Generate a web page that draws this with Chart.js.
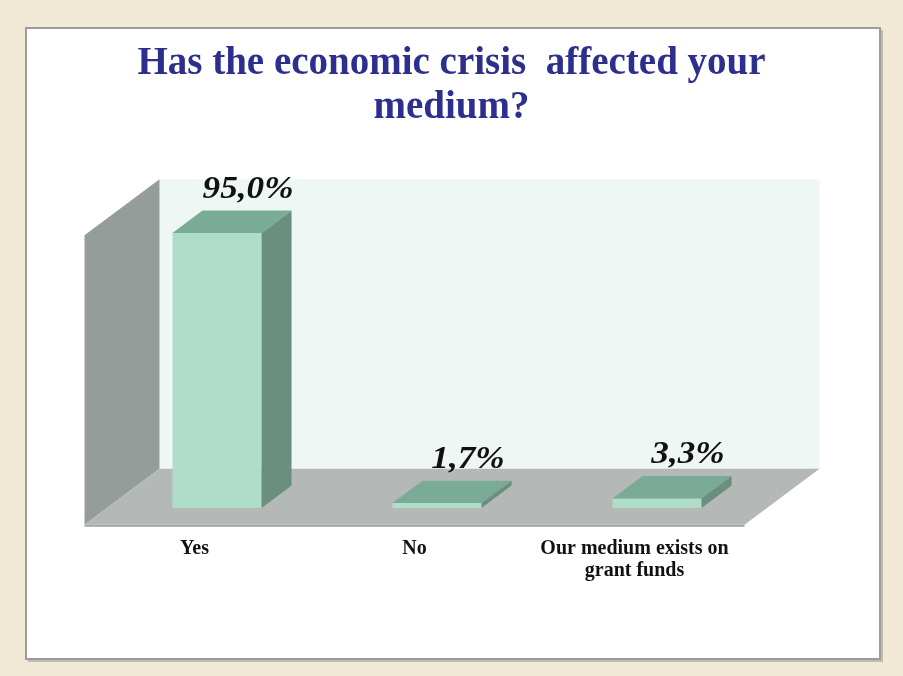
<!DOCTYPE html>
<html>
<head>
<meta charset="utf-8">
<script src="https://cdn.jsdelivr.net/npm/chart.js@4.4.1/dist/chart.umd.min.js"></script>
<style>
  html, body { margin: 0; padding: 0; background: #f2e8d6; }
  canvas { display: block; }
</style>
</head>
<body>
<canvas id="chart" width="903" height="676"></canvas>
<script>
// Survey answers and their shares (percent)
const categories = [['Yes'], ['No'], ['Our medium exists on', 'grant funds']];
const shares = [95.0, 1.7, 3.3];
const axisMax = 100;

// 3D projection: full floor depth and how a bar sits inside it
const DEPTH = { x: 75, y: -56 };
const BAR_FRONT = 0.3;   // fraction of depth in front of each bar
const BAR_DEPTH = 0.4;   // fraction of depth a bar occupies

const COLORS = {
  page: '#f2e8d6',
  backWall: '#eef7f4',
  sideWall: '#959d9b',
  floor: '#b4b9b8',
  floorEdge: '#9ea4a3',
  barFront: '#b0ddc9',
  barTop: '#7aab97',
  barSide: '#6a8f7f',
  title: '#2d2f8e'
};

const fmtShare = v => v.toFixed(1).replace('.', ',') + '%';

function poly(ctx, pts, fill) {
  ctx.beginPath();
  ctx.moveTo(pts[0][0], pts[0][1]);
  for (let i = 1; i < pts.length; i++) ctx.lineTo(pts[i][0], pts[i][1]);
  ctx.closePath();
  ctx.fillStyle = fill;
  ctx.fill();
}

const scenePlugin = {
  id: 'scene',
  beforeDraw(chart) {
    const ctx = chart.ctx;
    ctx.save();
    ctx.fillStyle = COLORS.page;
    ctx.fillRect(0, 0, chart.width, chart.height);
    // framed white panel with a soft shadow
    ctx.fillStyle = 'rgba(110,100,80,0.35)';
    ctx.fillRect(28, 30, 855, 632);
    ctx.fillStyle = '#ffffff';
    ctx.fillRect(26, 28, 854, 631);
    ctx.strokeStyle = '#9c9c9c';
    ctx.lineWidth = 2;
    ctx.strokeRect(26, 28, 854, 631);
    ctx.restore();
  },
  beforeDatasetsDraw(chart) {
    const ctx = chart.ctx;
    const { left, right } = chart.chartArea;
    const yScale = chart.scales.y;
    const fx = -BAR_FRONT * DEPTH.x, fy = -BAR_FRONT * DEPTH.y;
    const L = left + fx, R = right + fx;
    const B = yScale.getPixelForValue(0) + fy;
    const T = yScale.getPixelForValue(axisMax) + fy;
    const dx = DEPTH.x, dy = DEPTH.y;
    ctx.save();
    // back wall
    poly(ctx, [[L + dx, T + dy], [R + dx, T + dy], [R + dx, B + dy], [L + dx, B + dy]], COLORS.backWall);
    // left wall
    poly(ctx, [[L, B], [L, T], [L + dx, T + dy], [L + dx, B + dy]], COLORS.sideWall);
    // floor with a thin front edge
    poly(ctx, [[L, B], [R, B], [R, B + 2], [L, B + 2]], COLORS.floorEdge);
    poly(ctx, [[L, B], [R, B], [R + dx, B + dy], [L + dx, B + dy]], COLORS.floor);
    ctx.restore();
  },
  afterDatasetsDraw(chart) {
    const ctx = chart.ctx;
    const meta = chart.getDatasetMeta(0);
    const bdx = BAR_DEPTH * DEPTH.x, bdy = BAR_DEPTH * DEPTH.y;
    ctx.save();
    meta.data.forEach((bar, i) => {
      const p = bar.getProps(['x', 'y', 'base', 'width'], true);
      const l = p.x - p.width / 2, r = p.x + p.width / 2;
      const top = p.y, base = p.base;
      poly(ctx, [[l, top], [r, top], [r + bdx, top + bdy], [l + bdx, top + bdy]], COLORS.barTop);
      poly(ctx, [[r, top], [r + bdx, top + bdy], [r + bdx, base + bdy], [r, base]], COLORS.barSide);
      // value label above the back edge of the bar top
      const v = chart.data.datasets[0].data[i];
      ctx.save();
      ctx.translate(p.x + bdx + 1, top + bdy - 13);
      ctx.scale(1.1, 1);
      ctx.font = 'italic bold 32px "Liberation Serif", "Times New Roman", serif';
      ctx.textAlign = 'center';
      ctx.textBaseline = 'alphabetic';
      ctx.fillStyle = '#111111';
      ctx.fillText(fmtShare(v), 0, 0);
      ctx.restore();
    });
    ctx.restore();
  }
};

new Chart(document.getElementById('chart'), {
  type: 'bar',
  data: {
    labels: categories,
    datasets: [{
      data: shares,
      backgroundColor: COLORS.barFront,
      borderWidth: 0,
      barPercentage: 0.405,
      categoryPercentage: 1.0
    }]
  },
  options: {
    responsive: false,
    animation: false,
    devicePixelRatio: 1,
    layout: { padding: { top: 41, bottom: 0, left: 30, right: 30 } },
    plugins: {
      legend: { display: false },
      tooltip: { enabled: false },
      title: {
        display: true,
        text: ['Has the economic crisis  affected your', 'medium?'],
        color: COLORS.title,
        font: { family: '"Liberation Serif", "Times New Roman", serif', size: 39, weight: 'bold', lineHeight: 1.15 },
        padding: { top: 0, bottom: 87.8 }
      }
    },
    scales: {
      x: {
        grid: { display: false, drawTicks: false },
        border: { display: false },
        ticks: {
          color: '#111111',
          padding: 30,
          labelOffset: -BAR_FRONT * DEPTH.x,
          maxRotation: 0,
          autoSkip: false,
          font: { family: '"Liberation Serif", "Times New Roman", serif', size: 20, weight: 'bold', lineHeight: 1.1 }
        },
        afterFit(s) { s.height = 168; }
      },
      y: {
        min: 0,
        max: axisMax,
        grid: { display: false, drawTicks: false },
        border: { display: false },
        ticks: { display: false },
        afterFit(s) { s.width = 77; }
      },
      y2: {
        position: 'right',
        grid: { display: false, drawTicks: false },
        border: { display: false },
        ticks: { display: false },
        afterFit(s) { s.width = 106; }
      }
    }
  },
  plugins: [scenePlugin]
});
</script>
</body>
</html>
